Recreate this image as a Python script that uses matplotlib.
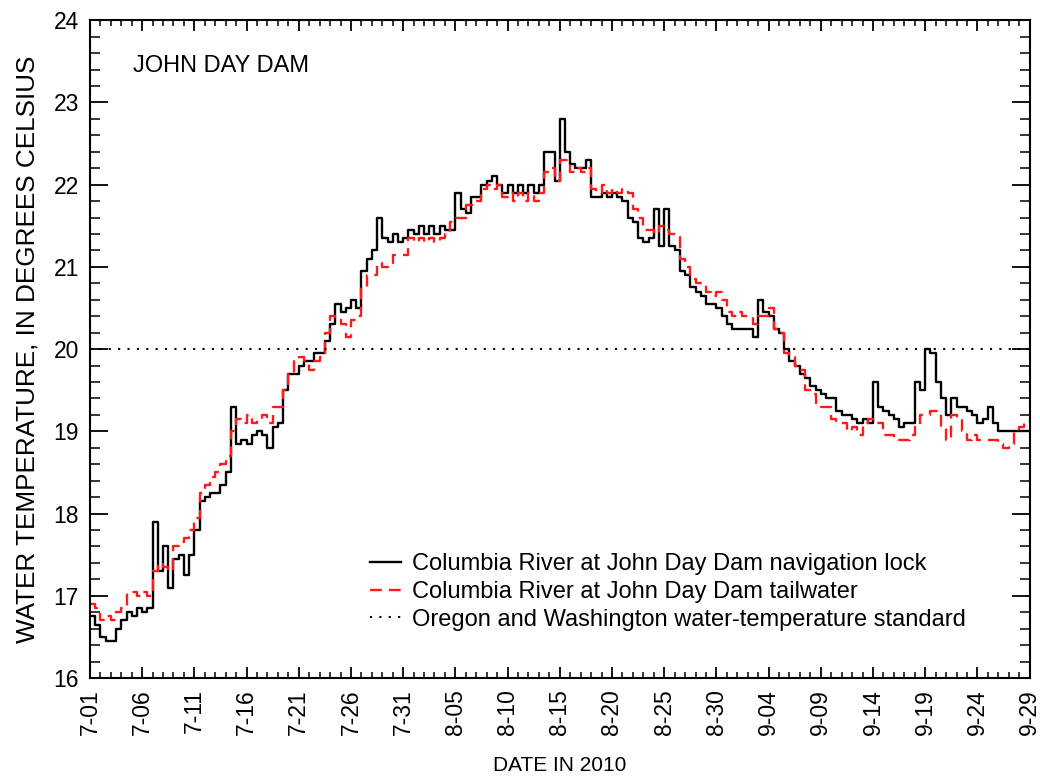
import numpy as np
import matplotlib
matplotlib.use("Agg")
from matplotlib import pyplot as plt
from matplotlib.ticker import MultipleLocator

plt.rcParams['font.family'] = ['Liberation Sans', 'DejaVu Sans']

# half-day readings, day 0 = 7-01
days = np.arange(0, 90.5, 0.5)

nav_lock = [
    16.75, 16.65, 16.5, 16.45, 16.45, 16.6, 16.7, 16.8, 16.75, 16.85,
    16.8, 16.85, 17.9, 17.3, 17.6, 17.1, 17.45, 17.5, 17.25, 17.5,
    17.8, 18.15, 18.2, 18.25, 18.25, 18.35, 18.5, 19.3, 18.85, 18.9,
    18.85, 18.95, 19.0, 18.95, 18.8, 19.05, 19.1, 19.5, 19.7, 19.7,
    19.8, 19.85, 19.85, 19.95, 19.95, 20.1, 20.3, 20.55, 20.45, 20.5,
    20.6, 20.5, 20.95, 21.1, 21.2, 21.6, 21.35, 21.3, 21.4, 21.3,
    21.35, 21.45, 21.4, 21.5, 21.4, 21.5, 21.4, 21.5, 21.45, 21.45,
    21.9, 21.7, 21.65, 21.85, 21.85, 22.0, 22.05, 22.1, 22.0, 21.9,
    22.0, 21.9, 22.0, 21.9, 22.0, 21.9, 22.0, 22.4, 22.4, 22.05,
    22.8, 22.4, 22.25, 22.2, 22.2, 22.3, 21.85, 21.85, 21.9, 21.85,
    21.9, 21.85, 21.8, 21.6, 21.55, 21.35, 21.3, 21.35, 21.7, 21.25,
    21.7, 21.25, 21.2, 20.95, 20.9, 20.75, 20.7, 20.65, 20.55, 20.55,
    20.5, 20.4, 20.3, 20.25, 20.25, 20.25, 20.25, 20.15, 20.6, 20.45,
    20.4, 20.25, 20.2, 20.0, 19.85, 19.8, 19.7, 19.65, 19.55, 19.5,
    19.45, 19.4, 19.4, 19.25, 19.2, 19.2, 19.15, 19.1, 19.15, 19.1,
    19.6, 19.3, 19.25, 19.2, 19.15, 19.05, 19.1, 19.1, 19.6, 19.5,
    20.0, 19.95, 19.6, 19.4, 19.2, 19.4, 19.3, 19.3, 19.25, 19.2,
    19.1, 19.15, 19.3, 19.1, 19.0, 19.0, 19.0, 19.0, 19.0, 19.0,
    19.0,
]

tailwater = [
    16.9, 16.85, 16.7, 16.75, 16.7, 16.8, 16.85, 17.05, 17.05, 17.0,
    17.05, 17.0, 17.3, 17.4, 17.35, 17.3, 17.6, 17.65, 17.7, 17.8,
    17.95, 18.25, 18.35, 18.45, 18.5, 18.6, 18.7, 19.0, 19.15, 19.1,
    19.2, 19.1, 19.15, 19.2, 19.1, 19.3, 19.3, 19.5, 19.7, 19.85,
    19.9, 19.85, 19.75, 19.85, 19.9, 20.2, 20.4, 20.35, 20.3, 20.15,
    20.35, 20.4, 20.75, 20.9, 20.9, 21.05, 21.0, 21.05, 21.15, 21.15,
    21.15, 21.35, 21.3, 21.35, 21.3, 21.35, 21.3, 21.35, 21.4, 21.55,
    21.6, 21.6, 21.75, 21.75, 21.8, 21.95, 22.0, 21.95, 22.0, 21.85,
    21.9, 21.8, 21.9, 21.8, 21.9, 21.8, 21.9, 22.15, 22.2, 22.05,
    22.3, 22.3, 22.15, 22.2, 22.15, 22.2, 21.95, 21.9, 22.0, 21.9,
    21.95, 21.9, 21.95, 21.9, 21.7, 21.6, 21.45, 21.45, 21.4, 21.5,
    21.45, 21.4, 21.4, 21.1, 21.0, 20.85, 20.8, 20.8, 20.7, 20.65,
    20.7, 20.6, 20.45, 20.4, 20.45, 20.4, 20.4, 20.3, 20.4, 20.4,
    20.5, 20.25, 20.2, 19.95, 19.9, 19.8, 19.75, 19.5, 19.45, 19.35,
    19.3, 19.3, 19.15, 19.1, 19.1, 19.0, 19.05, 18.95, 19.1, 19.15,
    19.1, 19.1, 18.95, 18.95, 18.9, 18.9, 18.9, 18.95, 19.05, 19.2,
    19.2, 19.25, 19.25, 19.05, 18.9, 19.2, 19.15, 19.0, 18.9, 18.95,
    18.9, 18.9, 18.9, 18.9, 18.85, 18.8, 18.85, 19.0, 19.05, 19.1,
    19.15,
]

standard = 20.0
tick_days = np.arange(0, 91, 5)
tick_labels = ['7-01', '7-06', '7-11', '7-16', '7-21', '7-26', '7-31',
               '8-05', '8-10', '8-15', '8-20', '8-25', '8-30', '9-04',
               '9-09', '9-14', '9-19', '9-24', '9-29']

fig = plt.figure(figsize=(10.4, 7.78), dpi=100)
ax = fig.add_axes([0.0865, 0.1285, 0.9035, 0.8455])

ax.plot(days, nav_lock, color='black', lw=1.7, drawstyle='steps-post',
        label='Columbia River at John Day Dam navigation lock')
ax.plot(days, tailwater, color='#ff1a1a', lw=1.7, ls=(0, (5, 3)),
        drawstyle='steps-post',
        label='Columbia River at John Day Dam tailwater')
ax.axhline(standard, color='black', lw=1.5, ls=(0, (1, 3.5)),
           label='Oregon and Washington water-temperature standard')

ax.set_xlim(0, 90)
ax.set_ylim(16, 24)
ax.set_xticks(tick_days)
ax.set_xticklabels(tick_labels, rotation=90, fontsize=16.5)
ax.xaxis.set_minor_locator(MultipleLocator(1))
ax.yaxis.set_major_locator(MultipleLocator(1))
ax.yaxis.set_minor_locator(MultipleLocator(0.2))
ax.tick_params(axis='y', which='major', direction='in', length=13, width=1.3,
               labelsize=16.5, left=True, right=True, pad=8)
ax.tick_params(axis='y', which='minor', direction='in', length=7, width=1.1,
               left=True, right=True)
ax.tick_params(axis='x', which='major', direction='in', length=8, width=1.3,
               bottom=True, top=True, pad=8)
ax.tick_params(axis='x', which='minor', direction='in', length=4, width=1.1,
               bottom=True, top=True)
for s in ax.spines.values():
    s.set_linewidth(1.5)

ax.set_xlabel('DATE IN 2010', fontsize=15, labelpad=15)
ax.set_ylabel('WATER TEMPERATURE, IN DEGREES CELSIUS', fontsize=18.8, labelpad=10)
ax.text(0.046, 0.93, 'JOHN DAY DAM', transform=ax.transAxes, fontsize=17,
        va='center')

ax.legend(loc='center left', bbox_to_anchor=(0.298, 0.131), frameon=False,
          fontsize=17, handlelength=1.3, handletextpad=0.5, labelspacing=0.25,
          borderpad=0, borderaxespad=0)

fig.savefig('out.png', dpi=100)
